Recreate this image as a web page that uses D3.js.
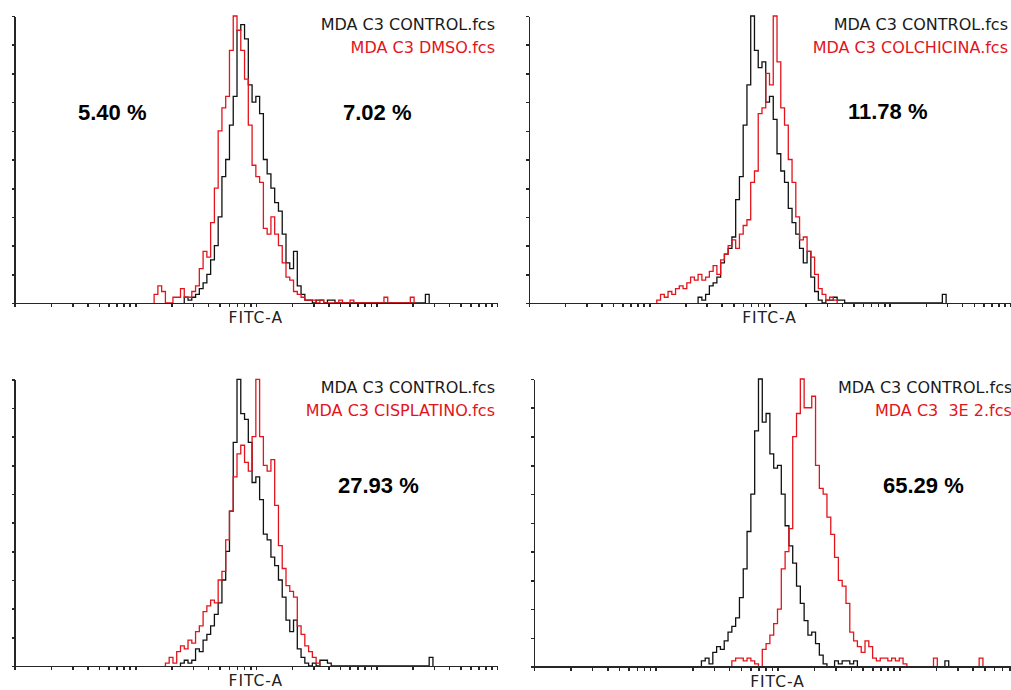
<!DOCTYPE html>
<html>
<head>
<meta charset="utf-8">
<script src="https://cdn.jsdelivr.net/npm/d3@7"></script>
<style>
  body { margin: 0; background: #fff; }
  svg { display: block; }
  .axis path, .axis line { stroke: #262626; stroke-width: 1.6px; shape-rendering: crispEdges; }
  .hist { fill: none; stroke-width: 1.3px; }
  .legend { font-family: "DejaVu Sans", Verdana, sans-serif; font-size: 16px; white-space: pre; }
  .pct { font-family: "Liberation Sans", Arial, sans-serif; font-weight: bold; font-size: 22px; fill: #000; }
  .xlabel { font-family: "DejaVu Sans", Verdana, sans-serif; font-size: 15.5px; letter-spacing: 1px; fill: #222; }
</style>
</head>
<body>
<svg width="1011" height="690"></svg>
<script>
// histogram counts in % of panel max, 128 channels over 4 log decades
const channels = 128;
const decades = [1, 1e4];

const ctrlDmsoStart = 45;
const ctrlDmso = [2, 1, 2, 3, 5, 7, 10, 15, 20, 30, 44, 50, 62, 72, 95, 97, 92, 76, 70, 72,
  66, 50, 45, 40, 35, 32, 24, 14, 12, 18, 6, 3, 1, 1, 0, 1, 1, 0, 1, 1,
  0, 0, 0, 0, 0, 0, 0, 0, 0, 0, 0, 0, 0, 0, 0, 0, 0, 0, 0, 0, 0, 0, 0, 0, 3];
const dmsoStart = 37;
const dmso = [3, 6, 4, 0, 0, 2, 2, 5, 2, 2, 4, 6, 12, 18, 16, 28, 40, 60, 68, 72,
  88, 100, 95, 88, 78, 62, 48, 44, 42, 26, 24, 30, 24, 20, 14, 9, 8, 4, 3, 2,
  1, 1, 1, 0, 1, 0, 0, 0, 0, 1, 0, 0, 1, 0, 0, 0, 0, 0, 0, 0, 0, 2, 0, 0, 0, 0, 0, 0, 2];

const ctrlColchStart = 45;
const ctrlColch = [2, 1, 3, 6, 7, 9, 14, 17, 19, 23, 36, 44, 62, 76, 100, 88, 82, 84, 70, 72,
  64, 52, 46, 42, 33, 28, 24, 19, 14, 18, 9, 4, 1, 0, 1, 1, 2, 1, 1,
  0, 0, 0, 0, 0, 0, 0, 0, 0, 0, 0, 0, 0, 0, 0, 0, 0, 0, 0, 0, 0, 0, 0, 0, 0, 0, 3];
const colchStart = 34;
const colch = [1, 3, 2, 4, 3, 5, 6, 5, 7, 9, 8, 10, 8, 9, 11, 13, 10, 15, 17, 20,
  22, 19, 24, 27, 29, 42, 46, 66, 68, 80, 76, 100, 84, 68, 62, 50, 42, 30, 22, 23,
  18, 16, 10, 5, 3, 1, 2, 1];

const ctrlCisStart = 44;
const ctrlCis = [1, 2, 1, 2, 6, 5, 9, 11, 14, 18, 22, 30, 40, 54, 78, 100, 88, 86, 78, 64,
  66, 58, 46, 44, 38, 35, 30, 24, 16, 12, 16, 6, 3, 1, 0, 1, 0, 2, 2, 1,
  0, 0, 0, 0, 0, 0, 0, 0, 0, 0, 0, 0, 0, 0, 0, 0, 0, 0, 0, 0, 0, 0, 0, 0, 0, 0, 3];
const cisStart = 40;
const cis = [1, 3, 1, 5, 7, 6, 9, 8, 12, 14, 19, 21, 23, 22, 30, 33, 44, 54, 66, 74,
  77, 71, 68, 80, 100, 80, 70, 68, 72, 56, 42, 34, 28, 26, 24, 14, 11, 7, 5, 3, 1];

const ctrl3eStart = 44;
const ctrl3e = [2, 3, 1, 5, 7, 6, 9, 12, 14, 17, 24, 34, 47, 60, 82, 100, 85, 88, 74, 69,
  70, 60, 49, 42, 36, 28, 22, 16, 11, 12, 8, 4, 1, 0, 0, 2, 1, 2, 2, 1,
  2, 0, 0, 0, 0, 0, 0, 0, 0, 0, 0, 0, 0, 0, 0, 0, 0, 0, 0, 0, 0, 0, 0, 0, 2];
const e3Start = 52;
const e3 = [2, 3, 3, 2, 3, 2, 1, 0, 6, 8, 11, 15, 20, 34, 40, 48, 80, 88, 100, 90,
  90, 94, 70, 62, 60, 52, 46, 38, 30, 28, 22, 12, 9, 7, 5, 9, 7, 3, 2, 3,
  3, 2, 3, 2, 3, 1, 0, 0, 0, 0, 0, 0, 0, 3, 0, 0, 0, 0, 0, 0, 0, 0, 0, 0, 0, 3];

const controlNames = ["MDA C3 CONTROL.fcs", "MDA C3 CONTROL.fcs", "MDA C3 CONTROL.fcs", "MDA C3 CONTROL.fcs"];
const sampleNames = ["MDA C3 DMSO.fcs", "MDA C3 COLCHICINA.fcs", "MDA C3 CISPLATINO.fcs", "MDA C3  3E 2.fcs"];
const percents = [["5.40 %", "7.02 %"], ["11.78 %"], ["27.93 %"], ["65.29 %"]];

// panel layout; the last panel runs past the right edge, as in the original
const boxes = [
  { x0: 14.7, x1: 497, top: 16, base: 303, pct: [[78, 120], [343, 120]], leg: null },
  { x0: 529, x1: 1010, top: 16, base: 303, pct: [[848, 119]], leg: null },
  { x0: 14.7, x1: 497, top: 379.3, base: 666, pct: [[338, 493]], leg: null },
  { x0: 534, x1: 1021, top: 379, base: 666.7, pct: [[883, 493]], leg: [838, 875] }
];

const series = [
  [[ctrlDmsoStart, ctrlDmso], [dmsoStart, dmso]],
  [[ctrlColchStart, ctrlColch], [colchStart, colch]],
  [[ctrlCisStart, ctrlCis], [cisStart, cis]],
  [[ctrl3eStart, ctrl3e], [e3Start, e3]]
];

const svg = d3.select('svg');
const black = '#111';
const red = '#e3141b';

boxes.forEach(function(b, i) {
  const g = svg.append('g');

  const xLog = d3.scaleLog().domain(decades).range([b.x0, b.x1]);
  const xCh = d3.scaleLinear().domain([0, channels]).range([b.x0, b.x1]);
  const y = d3.scaleLinear().domain([0, 100]).range([b.base, b.top]);

  const line = d3.line()
    .x(function(d) { return xCh(d[0]); })
    .y(function(d) { return y(d[1]); })
    .curve(d3.curveStepAfter);

  series[i].forEach(function(s, k) {
    const start = s[0], counts = s[1];
    const pts = [[start, 0]];
    counts.forEach(function(c, j) { pts.push([start + j, c]); });
    pts.push([start + counts.length, 0]);
    g.append('path')
      .attr('class', 'hist')
      .attr('stroke', k === 0 ? black : red)
      .attr('d', line(pts));
  });

  g.append('g')
    .attr('class', 'axis')
    .attr('transform', `translate(0, ${b.base})`)
    .call(d3.axisBottom(xLog).tickFormat('').tickSize(4).tickSizeOuter(0));

  g.append('g')
    .attr('class', 'axis')
    .attr('transform', `translate(${b.x0}, 0)`)
    .call(d3.axisLeft(y).ticks(10).tickFormat('').tickSize(3).tickSizeOuter(0));

  g.append('text')
    .attr('class', 'xlabel')
    .attr('x', (b.x0 + b.x1) / 2)
    .attr('y', b.base + 20)
    .attr('text-anchor', 'middle')
    .text('FITC-A');

  g.append('text')
    .attr('class', 'legend')
    .attr('x', b.leg ? b.leg[0] : b.x1 - 2)
    .attr('y', b.top + 14)
    .attr('text-anchor', b.leg ? 'start' : 'end')
    .attr('fill', '#1a1a1a')
    .text(controlNames[i]);

  g.append('text')
    .attr('class', 'legend')
    .attr('x', b.leg ? b.leg[1] : b.x1 - 2)
    .attr('y', b.top + 37)
    .attr('text-anchor', b.leg ? 'start' : 'end')
    .attr('fill', red)
    .text(sampleNames[i]);

  percents[i].forEach(function(p, k) {
    g.append('text')
      .attr('class', 'pct')
      .attr('x', b.pct[k][0])
      .attr('y', b.pct[k][1])
      .text(p);
  });
});
</script>
</body>
</html>
